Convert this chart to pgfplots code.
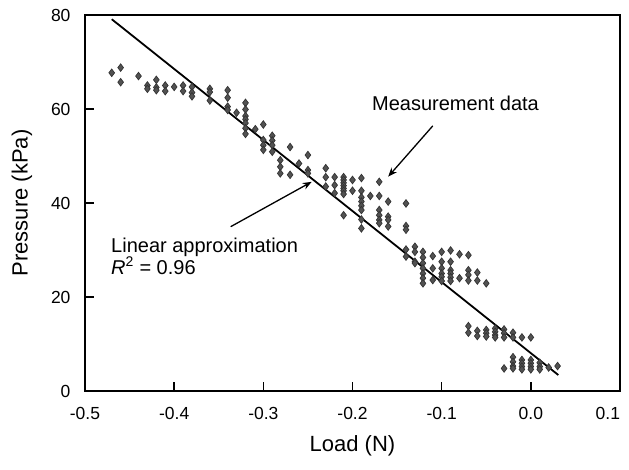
\documentclass[border=0pt]{standalone}
\usepackage{pgfplots}
\pgfplotsset{compat=1.18}
\usepackage{fontspec}
\setmainfont{Liberation Sans}
\usetikzlibrary{arrows.meta,calc}
\begin{document}
\begin{tikzpicture}
\begin{axis}[
  scale only axis,
  width=535bp, height=376bp,
  xmin=-0.5, xmax=0.1, ymin=0, ymax=80,
  xtick={-0.5,-0.4,-0.3,-0.2,-0.1,0,0.1},
  xticklabels={-0.5,-0.4,-0.3,-0.2,-0.1,0.0,\makebox[0pt][r]{0.1}},
  ytick={0,20,40,60,80},
  xticklabel style={yshift=-13bp},
  /pgf/number format/assume math mode=true,
  tick align=inside,
  xtick pos=left, ytick pos=left,
  major tick length=9bp,
  axis line style={line width=1.8bp},
  every tick/.style={black, line width=1.6bp},
  tick label style={font=\fontsize{17.5bp}{20bp}\selectfont},
  yticklabel style={xshift=-11bp},
  label style={font=\fontsize{22bp}{26bp}\selectfont},
  xlabel={Load (N)},
  ylabel={Pressure (kPa)},
  xlabel style={at={(rel axis cs:0.5,0)}, anchor=center, yshift=-55bp},
  ylabel style={at={(rel axis cs:0,0.5)}, anchor=center, yshift=63bp},
  clip=false,
]
\coordinate (bl) at (rel axis cs:0,0);
\coordinate (tr) at (rel axis cs:1,1);
\addplot[only marks, mark=diamond*, mark size=3.8bp,
  mark options={fill=black!68, draw=black!80, line width=0.7bp}] table {
x y
-0.470 67.7
-0.460 68.8
-0.460 65.7
-0.440 67.0
-0.430 65.0
-0.430 64.3
-0.420 66.2
-0.420 64.6
-0.420 64.0
-0.410 65.0
-0.410 63.8
-0.400 64.7
-0.390 65.0
-0.390 63.8
-0.380 64.7
-0.380 63.5
-0.380 62.7
-0.360 64.3
-0.360 63.6
-0.360 61.8
-0.340 64.0
-0.340 62.4
-0.340 60.5
-0.340 59.8
-0.330 59.2
-0.320 61.3
-0.320 59.9
-0.320 58.5
-0.320 57.8
-0.320 57.0
-0.320 55.9
-0.320 54.7
-0.309 55.7
-0.300 56.7
-0.300 53.4
-0.300 52.3
-0.300 51.3
-0.290 54.3
-0.290 53.3
-0.290 52.3
-0.290 50.9
-0.270 51.9
-0.281 49.1
-0.281 47.7
-0.281 46.3
-0.270 46.0
-0.260 48.4
-0.250 50.2
-0.250 47.0
-0.250 46.3
-0.230 47.4
-0.230 45.5
-0.230 43.5
-0.220 45.5
-0.220 43.8
-0.220 42.1
-0.210 45.5
-0.210 44.9
-0.210 44.3
-0.210 43.7
-0.210 43.1
-0.210 42.6
-0.210 41.9
-0.210 37.4
-0.200 44.9
-0.200 42.6
-0.190 45.3
-0.190 42.6
-0.190 41.2
-0.190 40.3
-0.190 39.4
-0.190 38.5
-0.190 36.5
-0.190 34.6
-0.180 41.5
-0.170 44.5
-0.170 41.5
-0.170 38.5
-0.170 37.4
-0.170 36.4
-0.170 35.7
-0.160 40.3
-0.160 37.1
-0.160 36.4
-0.160 35.0
-0.140 39.9
-0.140 35.1
-0.140 34.3
-0.140 30.1
-0.140 28.6
-0.130 30.7
-0.130 29.6
-0.130 27.5
-0.130 27.2
-0.121 29.6
-0.121 28.4
-0.121 27.2
-0.121 26.1
-0.121 25.0
-0.121 24.0
-0.121 22.9
-0.110 28.7
-0.110 26.1
-0.110 23.6
-0.100 29.6
-0.100 27.5
-0.100 26.1
-0.100 25.0
-0.100 24.3
-0.100 23.4
-0.090 29.9
-0.090 27.5
-0.090 25.7
-0.090 25.0
-0.090 24.2
-0.090 23.4
-0.080 29.1
-0.080 24.0
-0.070 28.9
-0.070 25.7
-0.070 24.7
-0.070 23.5
-0.060 25.2
-0.060 23.5
-0.050 22.9
-0.070 13.8
-0.070 12.4
-0.060 12.8
-0.060 11.7
-0.050 13.0
-0.050 12.3
-0.050 11.6
-0.040 13.3
-0.040 12.6
-0.040 11.9
-0.040 11.4
-0.030 13.1
-0.030 12.3
-0.030 11.4
-0.020 12.4
-0.020 11.4
-0.010 11.4
0.000 11.4
-0.030 4.8
-0.020 7.2
-0.020 6.2
-0.020 5.3
-0.020 4.8
-0.010 6.6
-0.010 5.9
-0.010 5.2
-0.010 4.6
0.000 6.6
0.000 5.9
0.000 5.2
0.000 4.6
0.010 6.0
0.010 5.2
0.010 4.6
0.020 5.0
0.030 5.3
};
\addplot[black, line width=1.8bp] coordinates {(-0.470,79.1) (0.0308,3.4)};
\draw[-{Stealth[length=9bp,width=7bp]}, line width=1.3bp] (axis cs:-0.110,56.4) -- (axis cs:-0.160,45.6);
\draw[-{Stealth[length=9bp,width=7bp]}, line width=1.3bp] (axis cs:-0.3366,34.96) -- (axis cs:-0.2458,44.5);
\node[anchor=base, inner sep=0pt, font=\fontsize{20bp}{24bp}\selectfont] at (axis cs:-0.0845,59.6) {Measurement data};
\node[anchor=base west, inner sep=0pt, font=\fontsize{20bp}{24bp}\selectfont] at (axis cs:-0.4708,29.36) {Linear approximation};
\node[anchor=base west, inner sep=0pt, font=\fontsize{20bp}{24bp}\selectfont] at (axis cs:-0.4708,24.83) {\textit{R}\textsuperscript{2} = 0.96};
\end{axis}
\pgfresetboundingbox
\path ($(bl)+(-85bp,-79bp)$) rectangle ($(tr)+(9bp,15bp)$);
\end{tikzpicture}
\end{document}
